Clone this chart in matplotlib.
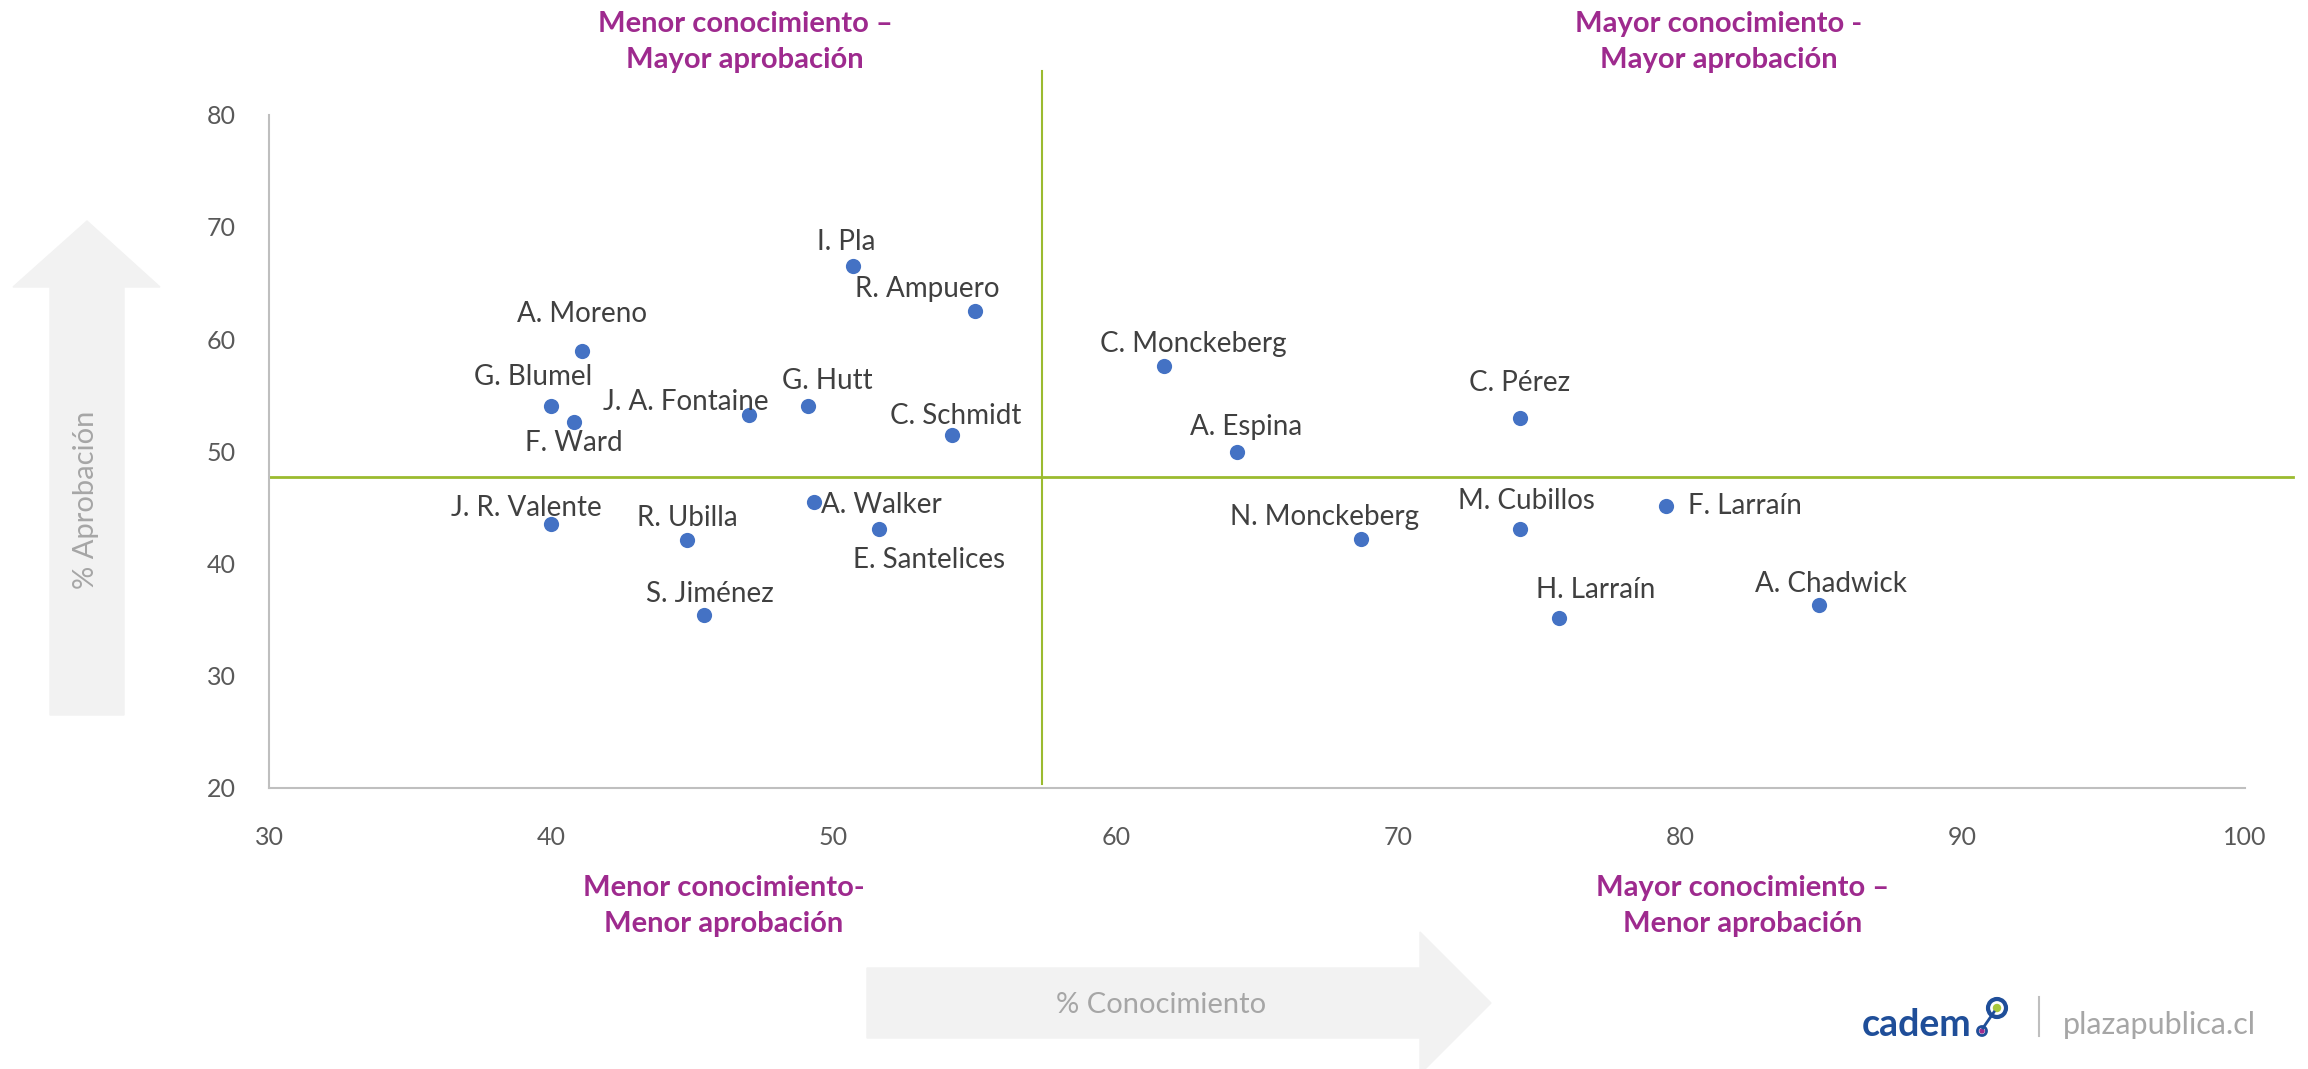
import numpy as np
import matplotlib
matplotlib.use("Agg")
import matplotlib.pyplot as plt
from matplotlib.patches import Polygon, Circle

plt.rcParams['font.family'] = ['Lato', 'DejaVu Sans']

# data: % conocimiento (x) vs % aprobacion (y)
names = ["I. Pla", "R. Ampuero", "A. Moreno", "G. Blumel", "F. Ward",
         "J. A. Fontaine", "G. Hutt", "C. Schmidt", "C. Monckeberg", "A. Espina",
         "C. Pérez", "J. R. Valente", "R. Ubilla", "A. Walker", "E. Santelices",
         "S. Jiménez", "N. Monckeberg", "M. Cubillos", "F. Larraín", "H. Larraín",
         "A. Chadwick"]
conocimiento = [50.7, 55.0, 41.1, 40.0, 40.8, 47.0, 49.1, 54.2, 61.7, 64.3,
                74.3, 40.0, 44.8, 49.3, 51.6, 45.4, 68.7, 74.3, 79.5, 75.7, 84.9]
aprobacion = [66.5, 62.5, 58.9, 54.0, 52.6, 53.2, 54.0, 51.4, 57.6, 49.9,
              53.0, 43.5, 42.1, 45.5, 43.1, 35.4, 42.2, 43.1, 45.1, 35.1, 36.3]
# label offsets in pixels (dx, dy)
offsets = [(-7, 24), (-47, 22), (0, 37), (-18, 29), (0, -21),
           (-63, 13), (19, 25), (4, 19), (29, 22), (9, 25),
           (0, 35), (-25, 16), (1, 22), (68, -3), (50, -31),
           (6, 21), (-37, 22), (7, 28), (79, 0), (37, 28), (12, 21)]

x_ticks = [30, 40, 50, 60, 70, 80, 90, 100]
y_ticks = [20, 30, 40, 50, 60, 70, 80]
x_split = 57.4
y_split = 47.7

quadrants = [("Menor conocimiento –\nMayor aprobación", 745, 42),
             ("Mayor conocimiento -\nMayor aprobación", 1719, 42),
             ("Menor conocimiento-\nMenor aprobación", 724, 906),
             ("Mayor conocimiento –\nMenor aprobación", 1743, 906)]

W, H = 2308, 1069
PURPLE = "#9E2A8E"
GREEN = "#9BBB2F"
BLUE = "#4472C4"
ARROW = "#F2F2F2"


def fx(x):
    return x / W


def fy(y):
    return 1 - y / H


fig = plt.figure(figsize=(W / 100, H / 100), dpi=100)

# big background arrows
up_arrow = [(50, 715), (124, 715), (124, 287), (160, 287), (87, 221),
            (13, 287), (50, 287)]
fig.patches.append(Polygon([(fx(a), fy(b)) for a, b in up_arrow], closed=True,
                           transform=fig.transFigure, color=ARROW, zorder=0))
right_arrow = [(867, 968), (1420, 968), (1420, 932), (1491, 1003),
               (1420, 1074), (1420, 1038), (867, 1038)]
fig.patches.append(Polygon([(fx(a), fy(b)) for a, b in right_arrow], closed=True,
                           transform=fig.transFigure, color=ARROW, zorder=0))
fig.text(fx(86), fy(500), "% Aprobación", rotation=90, ha='center', va='center',
         fontsize=21, color="#A6A6A6")
fig.text(fx(1161), fy(1005), "% Conocimiento", ha='center', va='center',
         fontsize=21, color="#A6A6A6")

ax = fig.add_axes([fx(269), fy(787.5), fx(2245) - fx(269), fy(114.8) - fy(787.5)])
ax.set_facecolor('none')
ax.set_xlim(30, 100)
ax.set_ylim(20, 80)
ax.set_xticks(x_ticks)
ax.set_yticks(y_ticks)
ax.tick_params(length=0, labelsize=18, labelcolor="#595959")
ax.tick_params(axis='x', pad=28)
ax.tick_params(axis='y', pad=24)
for s in ['top', 'right']:
    ax.spines[s].set_visible(False)
for s in ['left', 'bottom']:
    ax.spines[s].set_color("#BFBFBF")
    ax.spines[s].set_linewidth(1.5)

# quadrant divider lines
ax.plot([x_split, x_split], [20.3, 83.9], color=GREEN, lw=1.5, clip_on=False, zorder=1)
ax.plot([30, 101.7], [y_split, y_split], color=GREEN, lw=2, clip_on=False, zorder=1)

ax.scatter(conocimiento, aprobacion, s=120, color=BLUE, zorder=3, linewidths=0)
for n, x, y, (dx, dy) in zip(names, conocimiento, aprobacion, offsets):
    ax.annotate(n, (x, y), xytext=(dx, dy), textcoords='offset pixels',
                ha='center', va='center', fontsize=20, color="#404040", zorder=4)

for t, x, y in quadrants:
    fig.text(fx(x), fy(y), t, ha='center', va='center', fontsize=21,
             fontweight='bold', color=PURPLE, linespacing=1.5)

# logo
fig.text(fx(1862), fy(1025), "cadem", ha='left', va='center', fontsize=27,
         fontweight='bold', color="#1F4E99")
logo_ax = fig.add_axes([0, 0, 1, 1], facecolor='none')
logo_ax.set_xlim(0, W)
logo_ax.set_ylim(H, 0)
logo_ax.axis('off')
logo_ax.plot([1983, 1994], [1028, 1012], color="#1F4E99", lw=2)
logo_ax.add_patch(Circle((1997, 1008), 9, fill=False, ec="#1F4E99", lw=3))
logo_ax.add_patch(Circle((1997, 1008), 3.5, color="#A8C83C"))
logo_ax.add_patch(Circle((1982, 1031), 4.5, fill=False, ec="#1F4E99", lw=2))
logo_ax.add_patch(Circle((1982, 1031), 2, color="#9E2A8E"))
logo_ax.plot([2039, 2039], [997, 1036], color="#BFBFBF", lw=1.5)
fig.text(fx(2063), fy(1025), "plazapublica.cl", ha='left', va='center',
         fontsize=22, color="#A6A6A6")

fig.savefig("out.png", dpi=100)
